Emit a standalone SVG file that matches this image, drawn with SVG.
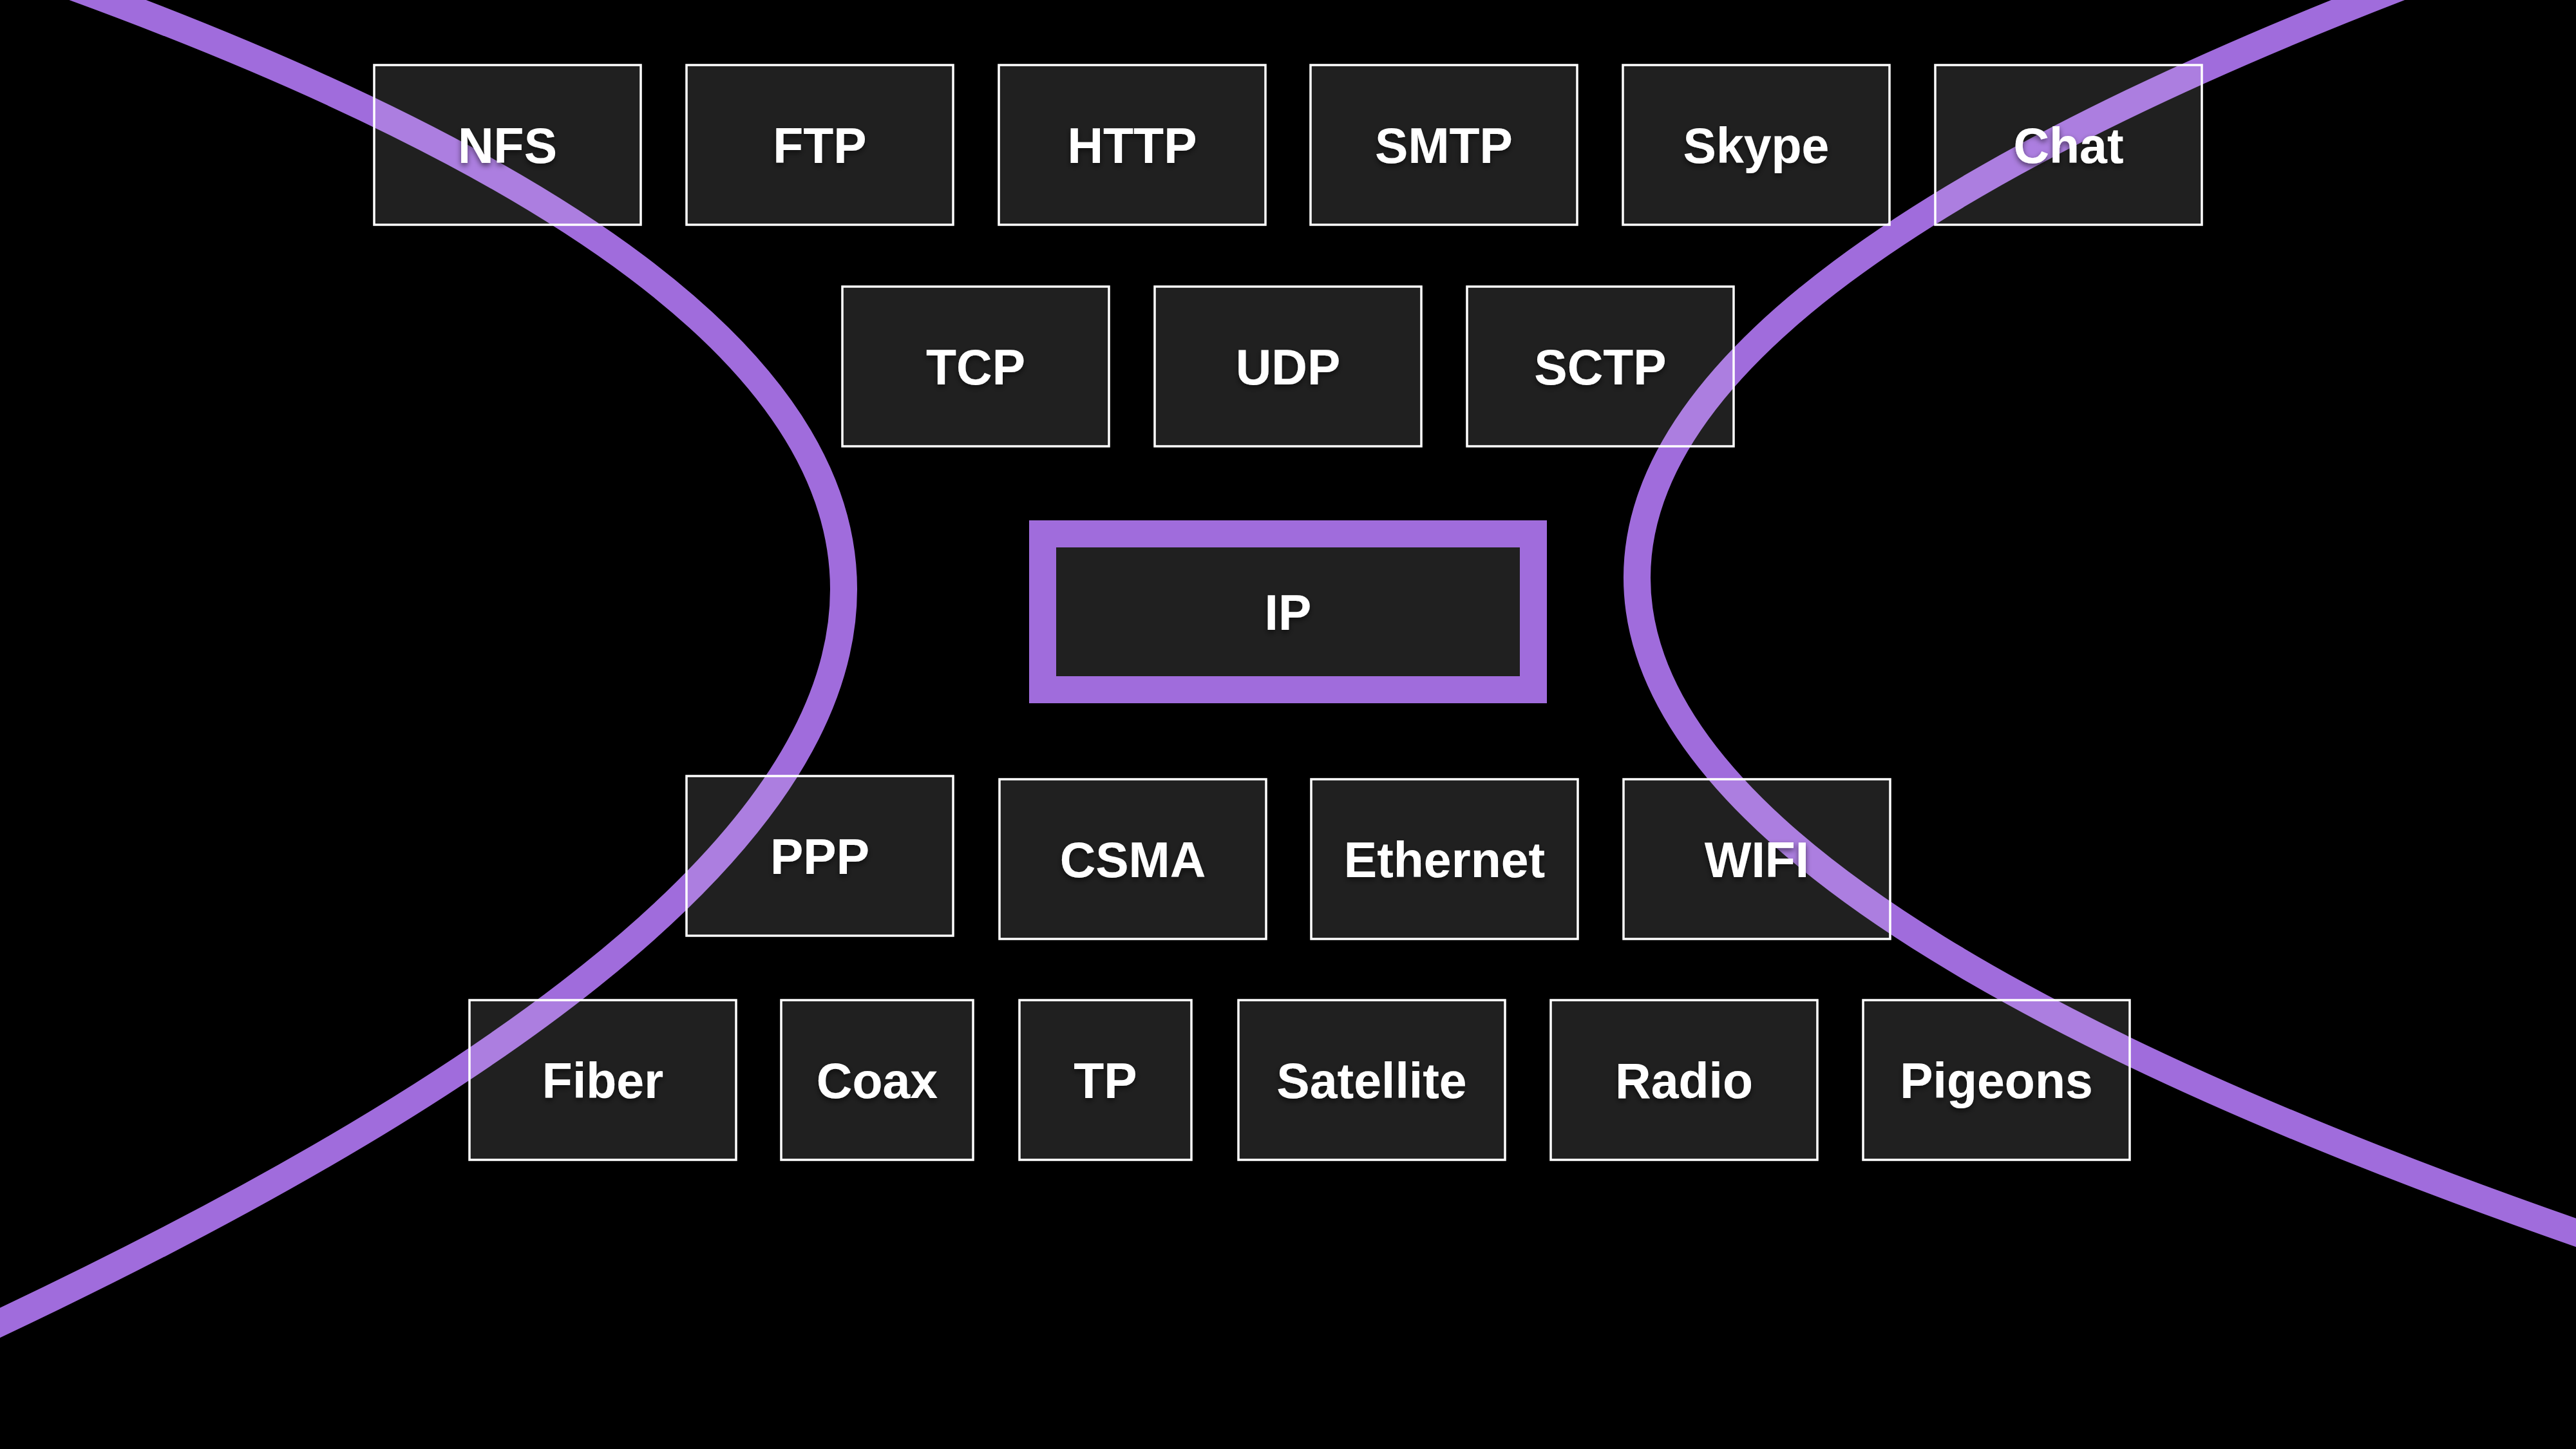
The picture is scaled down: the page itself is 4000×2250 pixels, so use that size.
<svg xmlns="http://www.w3.org/2000/svg" width="4000" height="2250" viewBox="0 0 4000 2250">
  <defs>
    <filter id="tshadow" x="-20%" y="-40%" width="140%" height="180%">
      <feDropShadow dx="0" dy="4" stdDeviation="4" flood-color="#000" flood-opacity="0.55"/>
    </filter>
  </defs>
  <style>
    .bg { fill: #000000; }
    .curve { fill: none; stroke: #a06cdc; stroke-width: 42; }
    .box { fill: #ffffff; fill-opacity: 0.125; stroke: #ffffff; stroke-width: 3.5; }
    .ip { fill: #ffffff; fill-opacity: 0.125; stroke: #a06cdc; stroke-width: 42; }
    .lbl { font-family: "Liberation Sans", Arial, Helvetica, sans-serif; font-weight: bold; font-size: 77px; fill: #ffffff; text-anchor: middle; filter: url(#tshadow); }
  </style>
  <rect class="bg" x="0" y="0" width="4000" height="2250"/>

  <g id="connectors">
    <path id="curve-left" class="curve" d="M -116.4,-100 C 402.4,71.7 760.9,243.3 989.3,415 C 1211,581.7 1310,748.3 1310,915 C 1310,1115 1167.6,1315 917.2,1515 C 652.2,1726.7 266.2,1938.3 -209.4,2150"/>
    <path id="curve-right" class="curve" d="M 3952,-103 Q 991,947 4248,1997"/>
  </g>

  <g id="node-nfs"><rect class="box" x="581" y="101" width="414" height="248"/><text class="lbl" x="788" y="253">NFS</text></g>
  <g id="node-ftp"><rect class="box" x="1066" y="101" width="414" height="248"/><text class="lbl" x="1273" y="253">FTP</text></g>
  <g id="node-http"><rect class="box" x="1551" y="101" width="414" height="248"/><text class="lbl" x="1758" y="253">HTTP</text></g>
  <g id="node-smtp"><rect class="box" x="2035" y="101" width="414" height="248"/><text class="lbl" x="2242" y="253">SMTP</text></g>
  <g id="node-skype"><rect class="box" x="2520" y="101" width="414" height="248"/><text class="lbl" x="2727" y="253">Skype</text></g>
  <g id="node-chat"><rect class="box" x="3005" y="101" width="414" height="248"/><text class="lbl" x="3212" y="253">Chat</text></g>

  <g id="node-tcp"><rect class="box" x="1308" y="445" width="414" height="248"/><text class="lbl" x="1515" y="597">TCP</text></g>
  <g id="node-udp"><rect class="box" x="1793" y="445" width="414" height="248"/><text class="lbl" x="2000" y="597">UDP</text></g>
  <g id="node-sctp"><rect class="box" x="2278" y="445" width="414" height="248"/><text class="lbl" x="2485" y="597">SCTP</text></g>

  <g id="node-ip"><rect class="ip" x="1619" y="829" width="762" height="242"/><text class="lbl" x="2000" y="978">IP</text></g>

  <g id="node-ppp"><rect class="box" x="1066" y="1205" width="414" height="248"/><text class="lbl" x="1273" y="1357">PPP</text></g>
  <g id="node-csma"><rect class="box" x="1552" y="1210" width="414" height="248"/><text class="lbl" x="1759" y="1362">CSMA</text></g>
  <g id="node-ethernet"><rect class="box" x="2036" y="1210" width="414" height="248"/><text class="lbl" x="2243" y="1362">Ethernet</text></g>
  <g id="node-wifi"><rect class="box" x="2521" y="1210" width="414" height="248"/><text class="lbl" x="2728" y="1362">WIFI</text></g>

  <g id="node-fiber"><rect class="box" x="729" y="1553" width="414" height="248"/><text class="lbl" x="936" y="1705">Fiber</text></g>
  <g id="node-coax"><rect class="box" x="1213" y="1553" width="298" height="248"/><text class="lbl" x="1362" y="1705">Coax</text></g>
  <g id="node-tp"><rect class="box" x="1583" y="1553" width="267" height="248"/><text class="lbl" x="1716.5" y="1705">TP</text></g>
  <g id="node-satellite"><rect class="box" x="1923" y="1553" width="414" height="248"/><text class="lbl" x="2130" y="1705">Satellite</text></g>
  <g id="node-radio"><rect class="box" x="2408" y="1553" width="414" height="248"/><text class="lbl" x="2615" y="1705">Radio</text></g>
  <g id="node-pigeons"><rect class="box" x="2893" y="1553" width="414" height="248"/><text class="lbl" x="3100" y="1705">Pigeons</text></g>
</svg>
